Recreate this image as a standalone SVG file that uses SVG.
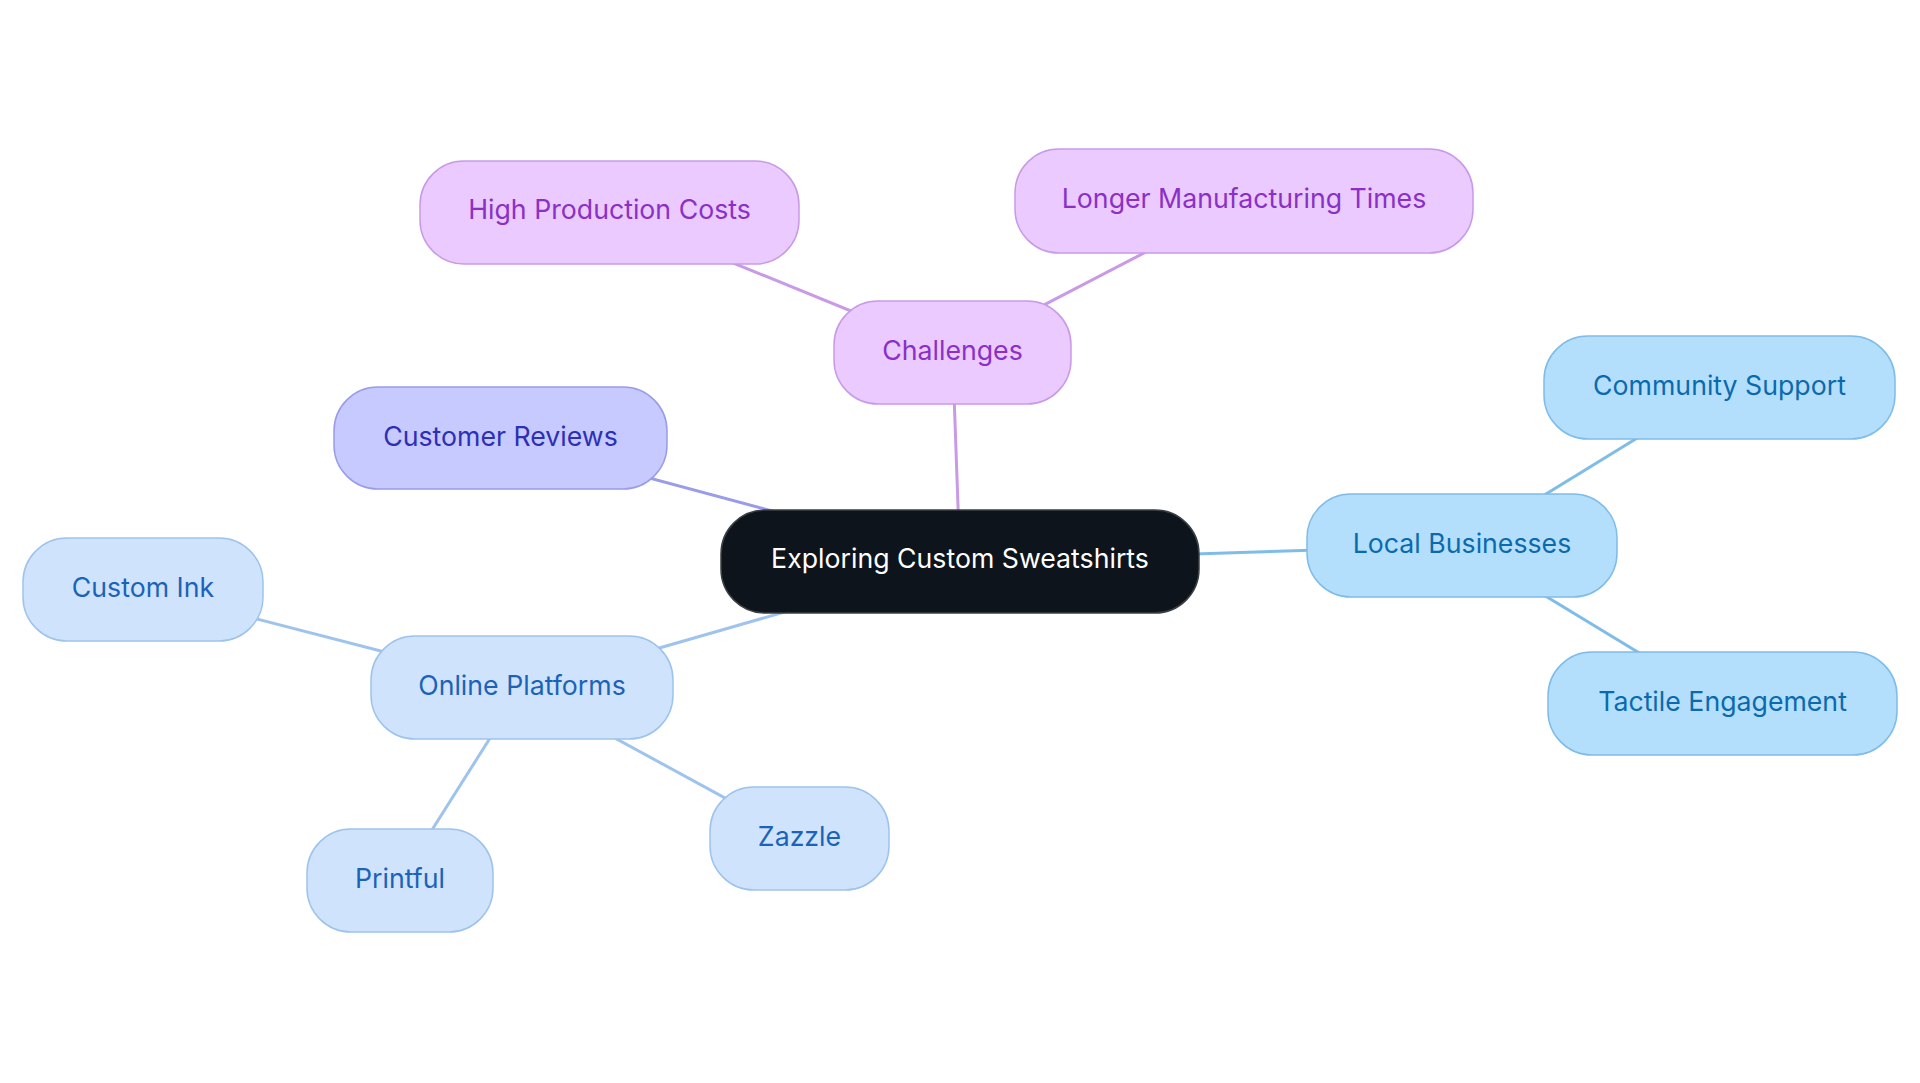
<svg xmlns="http://www.w3.org/2000/svg" width="1920" height="1083" viewBox="0 0 1920 1083">
<style>
text{font-family:Inter,"Noto Sans","Liberation Sans",sans-serif;font-size:26.7px;text-anchor:middle}
.e{stroke-width:3;fill:none}
.n rect{stroke-width:1.5}
.pur rect{fill:#eacaff;stroke:#c99ae6}.pur text{fill:#8b30c6}
.ind rect{fill:#c7caff;stroke:#9a9ce8}.ind text{fill:#2d2fb5}
.lb rect{fill:#cfe4fc;stroke:#9ec3ec}.lb text{fill:#1b63b8}
.sk rect{fill:#b3dffd;stroke:#7fbce8}.sk text{fill:#0b6aae}
.root rect{fill:#0d141b;stroke:#3b3f44}.root text{fill:#ffffff}
</style>
<rect width="1920" height="1083" fill="#ffffff"/>
<g id="connectors">
<line class="e" stroke="#c99ae6" x1="960" y1="561.5" x2="952.5" y2="352.5"/>
<line class="e" stroke="#c99ae6" x1="952.5" y1="352.5" x2="609.5" y2="212.5"/>
<line class="e" stroke="#c99ae6" x1="952.5" y1="352.5" x2="1244" y2="201"/>
<line class="e" stroke="#9a9ce8" x1="960" y1="561.5" x2="500.5" y2="438"/>
<line class="e" stroke="#7fbce8" x1="960" y1="561.5" x2="1462" y2="545.5"/>
<line class="e" stroke="#7fbce8" x1="1462" y1="545.5" x2="1719.5" y2="387.5"/>
<line class="e" stroke="#7fbce8" x1="1462" y1="545.5" x2="1722.5" y2="703.5"/>
<line class="e" stroke="#9ec3ec" x1="960" y1="561.5" x2="522" y2="687.5"/>
<line class="e" stroke="#9ec3ec" x1="522" y1="687.5" x2="143" y2="589.5"/>
<line class="e" stroke="#9ec3ec" x1="522" y1="687.5" x2="400" y2="880.5"/>
<line class="e" stroke="#9ec3ec" x1="522" y1="687.5" x2="799.5" y2="838.5"/>
</g>
<g id="root" class="n root"><rect x="721" y="510" width="478" height="103" rx="44"/><text x="960" y="568">Exploring Custom Sweatshirts</text></g>
<g id="challenges" class="n pur"><rect x="834" y="301" width="237" height="103" rx="44"/><text x="952.5" y="360">Challenges</text></g>
<g id="high-production-costs" class="n pur"><rect x="420" y="161" width="379" height="103" rx="44"/><text x="609.5" y="219">High Production Costs</text></g>
<g id="longer-manufacturing-times" class="n pur"><rect x="1015" y="149" width="458" height="104" rx="44"/><text x="1244" y="208">Longer Manufacturing Times</text></g>
<g id="customer-reviews" class="n ind"><rect x="334" y="387" width="333" height="102" rx="44"/><text x="500.5" y="446">Customer Reviews</text></g>
<g id="local-businesses" class="n sk"><rect x="1307" y="494" width="310" height="103" rx="44"/><text x="1462" y="553">Local Businesses</text></g>
<g id="community-support" class="n sk"><rect x="1544" y="336" width="351" height="103" rx="44"/><text x="1719.5" y="395">Community Support</text></g>
<g id="tactile-engagement" class="n sk"><rect x="1548" y="652" width="349" height="103" rx="44"/><text x="1722.5" y="711">Tactile Engagement</text></g>
<g id="online-platforms" class="n lb"><rect x="371" y="636" width="302" height="103" rx="44"/><text x="522" y="695">Online Platforms</text></g>
<g id="custom-ink" class="n lb"><rect x="23" y="538" width="240" height="103" rx="44"/><text x="143" y="597">Custom Ink</text></g>
<g id="printful" class="n lb"><rect x="307" y="829" width="186" height="103" rx="44"/><text x="400" y="888">Printful</text></g>
<g id="zazzle" class="n lb"><rect x="710" y="787" width="179" height="103" rx="44"/><text x="799.5" y="846">Zazzle</text></g>
</svg>
